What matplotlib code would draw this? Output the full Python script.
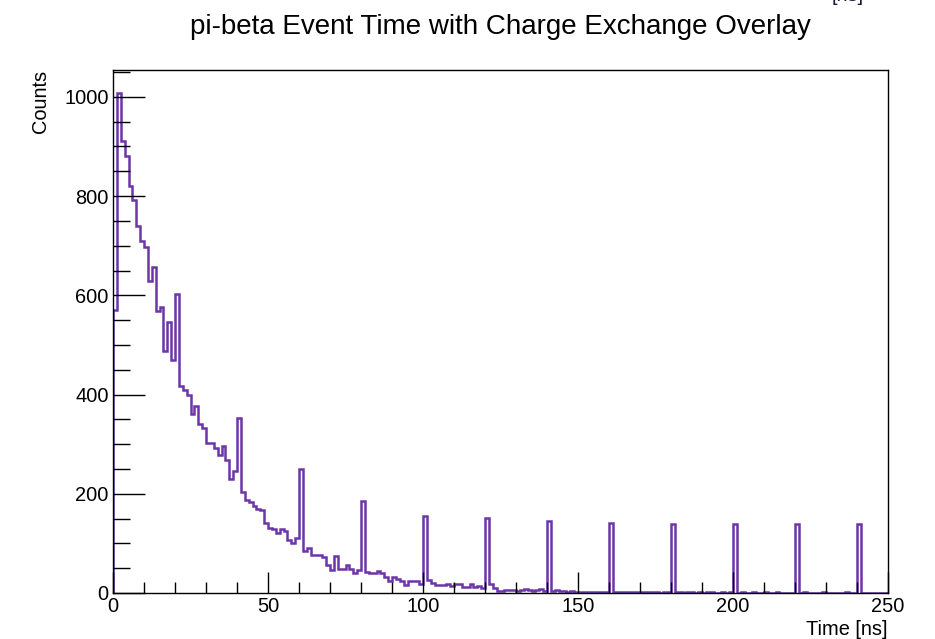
import numpy as np
import matplotlib
matplotlib.use("Agg")
import matplotlib.pyplot as plt
from matplotlib.ticker import MultipleLocator

plt.rcParams['font.family'] = ['Liberation Sans', 'DejaVu Sans']

# Histogram definition: 200 bins from 0 to 250 ns
t_min, t_max, n_bins = 0.0, 250.0, 200

counts = [
    570, 1007, 911, 880, 820, 792, 740, 710, 698, 629,
    658, 569, 577, 487, 546, 470, 602, 417, 410, 399,
    361, 377, 341, 332, 302, 302, 292, 278, 296, 268,
    230, 245, 352, 203, 187, 184, 175, 169, 168, 142,
    132, 128, 120, 128, 124, 106, 100, 110, 250, 85,
    91, 77, 77, 76, 73, 56, 46, 75, 48, 49,
    56, 48, 41, 46, 186, 43, 41, 40, 44, 41,
    33, 24, 32, 28, 24, 16, 24, 24, 24, 18,
    156, 26, 21, 16, 16, 16, 18, 15, 18, 18,
    13, 13, 18, 13, 15, 11, 152, 18, 10, 4,
    4, 6, 6, 6, 4, 7, 9, 7, 5, 6,
    8, 5, 145, 5, 6, 4, 5, 3, 4, 3,
    3, 2, 3, 2, 2, 3, 2, 2, 142, 2,
    1, 2, 1, 1, 2, 1, 1, 1, 2, 1,
    1, 0, 1, 1, 140, 1, 1, 0, 1, 1,
    0, 1, 0, 1, 1, 0, 0, 1, 0, 1,
    140, 0, 1, 0, 0, 1, 0, 0, 1, 0,
    0, 1, 0, 0, 0, 0, 139, 0, 1, 0,
    0, 0, 0, 1, 0, 0, 0, 0, 0, 1,
    0, 0, 139, 0, 0, 0, 0, 0, 0, 0,
]

title = "pi-beta Event Time with Charge Exchange Overlay"
x_title = "Time [ns]"
y_title = "Counts"
x_major = [0, 50, 100, 150, 200, 250]
y_major = [0, 200, 400, 600, 800, 1000]

edges = np.linspace(t_min, t_max, n_bins + 1)
values = np.asarray(counts, dtype=float)

fig = plt.figure(figsize=(9.35, 6.39), dpi=100)
ax = fig.add_axes([0.1209, 0.072, 0.8288, 0.8186])

ax.stairs(values, edges, baseline=0, color='#6c35a8', linewidth=1.8)

ax.set_xlim(t_min, t_max)
ax.set_ylim(0, values.max() * 1.047)

ax.set_xticks(x_major)
ax.set_yticks(y_major)
ax.xaxis.set_minor_locator(MultipleLocator(10))
ax.yaxis.set_minor_locator(MultipleLocator(50))

ax.tick_params(axis='both', which='both', direction='in', top=False, right=False,
               color='black', width=1.0, labelsize=14.4, pad=3)
ax.tick_params(axis='x', which='major', length=15)
ax.tick_params(axis='x', which='minor', length=8)
ax.tick_params(axis='y', which='major', length=23)
ax.tick_params(axis='y', which='minor', length=12)

for sp in ax.spines.values():
    sp.set_linewidth(1.0)
    sp.set_color('black')

ax.set_xlabel(x_title, fontsize=14.4, loc='right', labelpad=3)
ax.set_ylabel(y_title, fontsize=14.4, loc='top', labelpad=10)

# Title centred over the plotting frame
ax_center = (0.1209 + 0.1209 + 0.8288) / 2
fig.text(ax_center, 0.958, title, ha='center', va='center', fontsize=20)

# Unit tag of a stats panel sitting just above the canvas edge
fig.text(0.907, 0.9985, "[ns]", ha='center', va='baseline', fontsize=14.4,
         color='#1c1c40')

fig.savefig("out.png", dpi=100, facecolor='white')
